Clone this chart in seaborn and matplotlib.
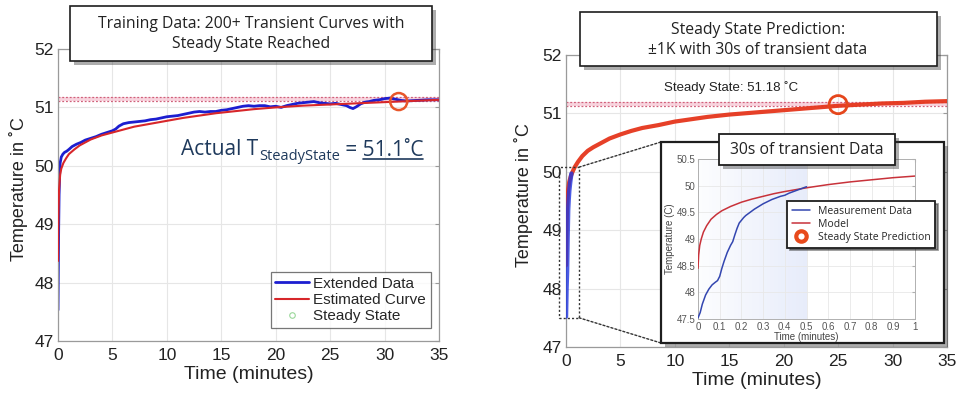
import numpy as np
import pandas as pd
import matplotlib
matplotlib.use("Agg")
import matplotlib.pyplot as plt
import seaborn as sns
from matplotlib.patches import Rectangle, ConnectionPatch
from matplotlib.lines import Line2D

# ---------------- data ----------------
left_data_t = [0, 0.03, 0.06, 0.1, 0.15, 0.2, 0.3, 0.45, 0.6, 0.8, 1.0, 1.3, 1.7, 2.1, 2.5,
               3.0, 3.5, 4.0, 4.5, 5.0, 5.3, 5.6, 6.0, 6.5, 7.0, 7.5, 8.0, 8.5, 9.0, 9.5,
               10.0, 10.5, 11.0, 11.5, 12.0, 12.5, 13.0, 13.5, 14.0, 14.5, 15.0, 15.5, 16.0,
               16.5, 17.0, 17.5, 18.0, 18.5, 19.0, 19.5, 20.0, 20.5, 21.0, 21.5, 22.0, 22.5,
               23.0, 23.5, 24.0, 24.5, 25.0, 25.5, 26.0, 26.5, 26.8, 27.1, 27.4, 27.8, 28.2,
               28.6, 29.0, 29.5, 30.0, 30.5, 31.0, 31.5, 32.0, 33.0, 34.0, 35.0]
left_data_T = [47.53, 48.2, 48.9, 49.5, 49.85, 50.05, 50.15, 50.2, 50.23, 50.25, 50.28, 50.33,
               50.37, 50.4, 50.44, 50.47, 50.5, 50.54, 50.57, 50.6, 50.63, 50.68, 50.72, 50.74,
               50.75, 50.76, 50.77, 50.79, 50.8, 50.82, 50.84, 50.85, 50.86, 50.88, 50.9,
               50.92, 50.93, 50.92, 50.93, 50.93, 50.95, 50.96, 50.98, 51.0, 51.02, 51.03,
               51.02, 51.03, 51.03, 51.01, 51.02, 51.0, 51.03, 51.05, 51.07, 51.08, 51.09,
               51.1, 51.08, 51.07, 51.06, 51.07, 51.05, 51.03, 51.0, 50.98, 51.01, 51.06,
               51.09, 51.1, 51.12, 51.13, 51.15, 51.16, 51.14, 51.12, 51.11, 51.12, 51.13, 51.13]

left_fit_t = [0, 0.02, 0.05, 0.1, 0.2, 0.3, 0.5, 0.75, 1, 1.5, 2, 3, 4, 5, 6, 7, 8.5, 10,
              11.5, 13, 14.5, 16, 18, 20, 22.5, 25, 27.5, 30, 32.5, 35]
left_fit_T = [48.37, 48.9, 49.25, 49.6, 49.85, 49.95, 50.05, 50.13, 50.2, 50.28, 50.35, 50.45,
              50.52, 50.57, 50.62, 50.67, 50.72, 50.77, 50.82, 50.86, 50.9, 50.93, 50.97, 51.0,
              51.03, 51.05, 51.07, 51.09, 51.11, 51.13]

right_fit_t = [0, 0.05, 0.1, 0.2, 0.3, 0.45, 0.6, 0.8, 1.1, 1.5, 2, 2.5, 3, 4, 5, 6, 7, 8.5,
               10, 11.5, 13, 15, 17, 19, 21, 23, 25, 27, 29, 31, 33, 35]
right_fit_T = [48.4, 49.05, 49.4, 49.7, 49.83, 49.93, 50.0, 50.08, 50.17, 50.27, 50.36, 50.42,
               50.47, 50.57, 50.64, 50.7, 50.75, 50.8, 50.86, 50.9, 50.94, 50.98, 51.01, 51.04,
               51.07, 51.1, 51.13, 51.15, 51.17, 51.18, 51.2, 51.21]

right_data_t = [0, 0.05, 0.1, 0.15, 0.2, 0.25, 0.3, 0.35, 0.4, 0.45, 0.5]
right_data_T = [47.52, 48.0, 48.3, 48.9, 49.35, 49.53, 49.67, 49.76, 49.84, 49.91, 49.97]

inset_data_t = [0, 0.01, 0.02, 0.035, 0.05, 0.065, 0.08, 0.09, 0.1, 0.11, 0.12, 0.135, 0.15,
                0.16, 0.17, 0.18, 0.19, 0.2, 0.21, 0.22, 0.24, 0.26, 0.28, 0.3, 0.32, 0.34,
                0.36, 0.38, 0.4, 0.42, 0.44, 0.46, 0.48, 0.5]
inset_data_T = [47.52, 47.62, 47.78, 47.95, 48.06, 48.14, 48.19, 48.22, 48.3, 48.45, 48.58,
                48.75, 48.88, 48.95, 49.08, 49.2, 49.3, 49.35, 49.4, 49.44, 49.5, 49.56, 49.61,
                49.66, 49.7, 49.74, 49.77, 49.8, 49.82, 49.86, 49.89, 49.92, 49.95, 49.98]

inset_model_t = [0, 0.003, 0.008, 0.015, 0.025, 0.04, 0.06, 0.085, 0.11, 0.15, 0.2, 0.25,
                 0.3, 0.35, 0.4, 0.5, 0.6, 0.7, 0.8, 0.9, 1.0]
inset_model_T = [48.45, 48.7, 48.88, 49.0, 49.13, 49.25, 49.37, 49.46, 49.53, 49.61, 49.69,
                 49.75, 49.8, 49.85, 49.89, 49.96, 50.02, 50.07, 50.11, 50.15, 50.18]

steady_left_t, steady_left_T = 31.3, 51.1
steady_right_t, steady_right_T = 25.0, 51.15
band_left = [51.11, 51.18]
band_right = [51.12, 51.20]
training_window = 0.5          # minutes of transient data used
zoom_box = [-0.6, 1.2, 47.5, 50.08]

main_xticks = [0, 5, 10, 15, 20, 25, 30, 35]
main_yticks = [47, 48, 49, 50, 51, 52]
inset_xticks = [0, 0.1, 0.2, 0.3, 0.4, 0.5, 0.6, 0.7, 0.8, 0.9, 1]
inset_yticks = [47.5, 48, 48.5, 49, 49.5, 50, 50.5]

title_left = "Training Data: 200+ Transient Curves with\nSteady State Reached"
title_right = "Steady State Prediction:\n±1K with 30s of transient data"
title_inset = "30s of transient Data"
steady_text = "Steady State: 51.18 ˚C"

# ---------------- styling ----------------
sns.set_style("white")
plt.rcParams["font.family"] = ["Liberation Sans", "DejaVu Sans"]

W, H = 957, 398
fig = plt.figure(figsize=(W / 100, H / 100), dpi=100)
fig.patch.set_facecolor("white")


def fx(px):
    return px / W


def fy(py):
    return 1 - py / H


def axes_px(x0, y0, x1, y1, **kw):
    return fig.add_axes([fx(x0), fy(y1), fx(x1) - fx(x0), fy(y0) - fy(y1)], **kw)


def style_main(ax, ylab_x):
    ax.set_xlim(0, 35)
    ax.set_ylim(47, 52)
    ax.set_xticks(main_xticks)
    ax.set_yticks(main_yticks)
    ax.grid(True, color="#e6e6e6", lw=0.8)
    for s in ax.spines.values():
        s.set_color("#9a9a9a")
        s.set_linewidth(0.9)
    ax.tick_params(axis="both", labelsize=12.5, colors="#222222", direction="in",
                   length=3, top=True, right=True)
    ax.tick_params(axis="x", pad=5)
    ax.tick_params(axis="y", pad=3)
    ax.tick_params(axis="both", color="#9a9a9a")
    ax.set_xlabel("Time (minutes)", fontsize=14, color="#222222", labelpad=2)
    ax.set_ylabel("Temperature in ˚C", fontsize=13, color="#222222")
    ax.yaxis.set_label_coords(ylab_x, 0.52)


def box(x0, y0, x1, y1, z, lw=1.2, shadow=4):
    sh = Rectangle((fx(x0 + shadow), fy(y1 + shadow)), fx(x1) - fx(x0), fy(y0) - fy(y1),
                   transform=fig.transFigure, facecolor="#333333", alpha=0.4,
                   edgecolor="none", zorder=z)
    fig.add_artist(sh)
    bx = Rectangle((fx(x0), fy(y1)), fx(x1) - fx(x0), fy(y0) - fy(y1),
                   transform=fig.transFigure, facecolor="white", edgecolor="#1e1e1e",
                   lw=lw, zorder=z + 0.1)
    fig.add_artist(bx)


# ---------------- left panel ----------------
ax1 = axes_px(58, 49, 439, 341)
ax1.axhspan(band_left[0], band_left[1], color="#f4b8c8", alpha=0.6, lw=0, zorder=1)
for b in band_left:
    ax1.axhline(b, color="#d0607a", lw=0.9, ls=(0, (1.5, 1.5)), zorder=1.5)
sns.lineplot(x=left_fit_t, y=left_fit_T, ax=ax1, color="#d7262a", lw=1.5, zorder=3,
             estimator=None, sort=False)
sns.lineplot(x=left_data_t, y=left_data_T, ax=ax1, color="#1c1ed0", lw=2.0, zorder=2.5,
             estimator=None, sort=False)
sns.scatterplot(x=[steady_left_t], y=[steady_left_T], ax=ax1, s=150, marker="o",
                facecolor="none", edgecolor="#e8562a", linewidth=1.8, zorder=4)
style_main(ax1, -0.078)

handles = [Line2D([], [], color="#1c1ed0", lw=2.0),
           Line2D([], [], color="#d7262a", lw=1.5),
           Line2D([], [], color="#9ad89a", lw=0, marker="o", markersize=4,
                  markerfacecolor="none", markeredgewidth=0.8)]
leg1 = ax1.legend(handles, ["Extended Data", "Estimated Curve", "Steady State"],
                  loc="lower right", bbox_to_anchor=(0.978, 0.045), fontsize=11,
                  frameon=True, fancybox=False, borderpad=0.3, handlelength=2.2,
                  handletextpad=0.3, labelspacing=0.15, borderaxespad=0)
leg1.get_frame().set_edgecolor("#555555")
leg1.get_frame().set_linewidth(0.9)

# annotation "Actual T_SteadyState = 51.1 ˚C"
ann_color = "#1f3a5c"
t1 = ax1.text(11.3, 50.1, "Actual T", fontsize=15, color=ann_color, family="Open Sans",
              ha="left", va="bottom", zorder=5)
t2 = ax1.annotate("SteadyState", xy=(1, 0), xycoords=t1, xytext=(0.5, -3),
                  textcoords="offset points", fontsize=10.5, color=ann_color,
                  family="Open Sans", ha="left", va="bottom", zorder=5)
t3 = ax1.annotate(" = 51.1˚C", xy=(1, 0), xycoords=t2, xytext=(0, 2.2),
                  textcoords="offset points", fontsize=15, color=ann_color,
                  family="Open Sans", ha="left", va="bottom", zorder=5)

# ---------------- right panel ----------------
ax2 = axes_px(566, 55, 947, 347)
ax2.axhspan(band_right[0], band_right[1], color="#f4b8c8", alpha=0.6, lw=0, zorder=1)
for b in band_right:
    ax2.axhline(b, color="#d0607a", lw=0.9, ls=(0, (1.5, 1.5)), zorder=1.5)
sns.lineplot(x=right_fit_t, y=right_fit_T, ax=ax2, color="#e5361c", lw=3.0, zorder=3,
             estimator=None, sort=False, alpha=0.95)
sns.lineplot(x=right_data_t, y=right_data_T, ax=ax2, color="#2036e0", lw=3.2, zorder=3.5,
             estimator=None, sort=False, alpha=0.8)
sns.scatterplot(x=[steady_right_t], y=[steady_right_T], ax=ax2, s=170, marker="o",
                facecolor="none", edgecolor="#e5461c", linewidth=2.0, zorder=4)
style_main(ax2, -0.087)
ax2.text(15.2, 51.45, steady_text, fontsize=9.5, color="#222222", ha="center",
         va="center", zorder=5)

zx0, zx1, zy0, zy1 = zoom_box
ax2.add_patch(Rectangle((zx0, zy0), zx1 - zx0, zy1 - zy0, fill=False, ec="#333333",
                        lw=1.0, ls=(0, (1.5, 1.5)), clip_on=False, zorder=6))

# inset frame and connectors
inset_frame = (661, 142, 944, 343)
for (xa, ya), pyb in [((zx1, zy1), inset_frame[1]), ((zx1, zy0), inset_frame[3])]:
    con = ConnectionPatch(xyA=(xa, ya), coordsA=ax2.transData,
                          xyB=(fx(inset_frame[0]), fy(pyb)), coordsB=fig.transFigure,
                          color="#333333", lw=1.0, ls=(0, (1.5, 1.5)), zorder=7)
    fig.add_artist(con)
box(*inset_frame, z=8, lw=1.6, shadow=4)

# inset axes
ax3 = axes_px(698, 159, 915, 319)
ax3.set_zorder(10)
ax3.set_xlim(0, 1)
ax3.set_ylim(47.5, 50.5)
ax3.set_xticks(inset_xticks)
ax3.set_yticks(inset_yticks)
ax3.set_xticklabels([f"{v:g}" for v in inset_xticks])
ax3.set_yticklabels([f"{v:g}" for v in inset_yticks])
ax3.grid(True, color="#e8e8e8", lw=0.6)
for s in ax3.spines.values():
    s.set_color("#b0b0b0")
    s.set_linewidth(0.7)
ax3.tick_params(axis="both", labelsize=7, colors="#555555", direction="in", length=2,
                pad=2, top=True, right=True)
ax3.tick_params(axis="both", color="#b0b0b0")
n_strips = 30
edges = np.linspace(0, training_window, n_strips + 1)
for i in range(n_strips):
    ax3.axvspan(edges[i], edges[i + 1], color="#c3d0f4", alpha=0.04 + 0.36 * i / n_strips,
                lw=0, zorder=0.5)
sns.lineplot(x=inset_model_t, y=inset_model_T, ax=ax3, color="#c8323a", lw=1.1, zorder=3,
             estimator=None, sort=False)
sns.lineplot(x=inset_data_t, y=inset_data_T, ax=ax3, color="#3346b0", lw=1.1, zorder=3,
             estimator=None, sort=False)
ax3.set_xlabel("Time (minutes)", fontsize=7, color="#444444", labelpad=0)
ax3.set_ylabel("Temperature (C)", fontsize=7, color="#444444", labelpad=1)

h3 = [Line2D([], [], color="#3346b0", lw=1.1),
      Line2D([], [], color="#c8323a", lw=1.1),
      Line2D([], [], color="#e84a1c", lw=0, marker="o", markersize=7.5,
             markerfacecolor="none", markeredgewidth=3.0)]
leg3 = ax3.legend(h3, ["Measurement Data", "Model", "Steady State Prediction"],
                  loc="upper left", bbox_to_anchor=(0.41, 0.7375),
                  prop={"family": "Open Sans", "size": 7.5},
                  frameon=True, fancybox=False, shadow={"color": "#333333", "alpha": 0.5},
                  borderpad=0.45, handlelength=1.8, handletextpad=0.7,
                  labelspacing=0.2, borderaxespad=0)
leg3.get_frame().set_edgecolor("#1e1e1e")
leg3.get_frame().set_linewidth(1.3)
leg3.set_zorder(20)

# ---------------- title boxes ----------------
box(70, 6, 432, 61, z=12, lw=1.2, shadow=4)
fig.text(fx(251), fy(34), title_left, ha="center", va="center", fontsize=11.3,
         family="Open Sans", color="#222222", linespacing=1.35, zorder=13)
box(580, 12, 937, 66, z=12, lw=1.2, shadow=4)
fig.text(fx(758), fy(40), title_right, ha="center", va="center", fontsize=11.3,
         family="Open Sans", color="#222222", linespacing=1.35, zorder=13)
box(719, 134, 895, 165, z=14, lw=1.3, shadow=4)
fig.text(fx(807), fy(150), title_inset, ha="center", va="center", fontsize=11.3,
         family="Open Sans", color="#222222", zorder=15)

# underline of the value
fig.canvas.draw()
bb = t3.get_window_extent()
bb_eq = ax1.annotate(" = ", xy=(1, 0), xycoords=t2, xytext=(0, 2.2),
                     textcoords="offset points", fontsize=15, family="Open Sans",
                     alpha=0).get_window_extent(fig.canvas.get_renderer())
x_start = bb_eq.x1 + 1
yline = bb.y0 + 2
fig.add_artist(Line2D([x_start / W, bb.x1 / W], [yline / H, yline / H],
                      transform=fig.transFigure, color=ann_color, lw=1.2, zorder=6))

fig.savefig("out.png", dpi=100)
